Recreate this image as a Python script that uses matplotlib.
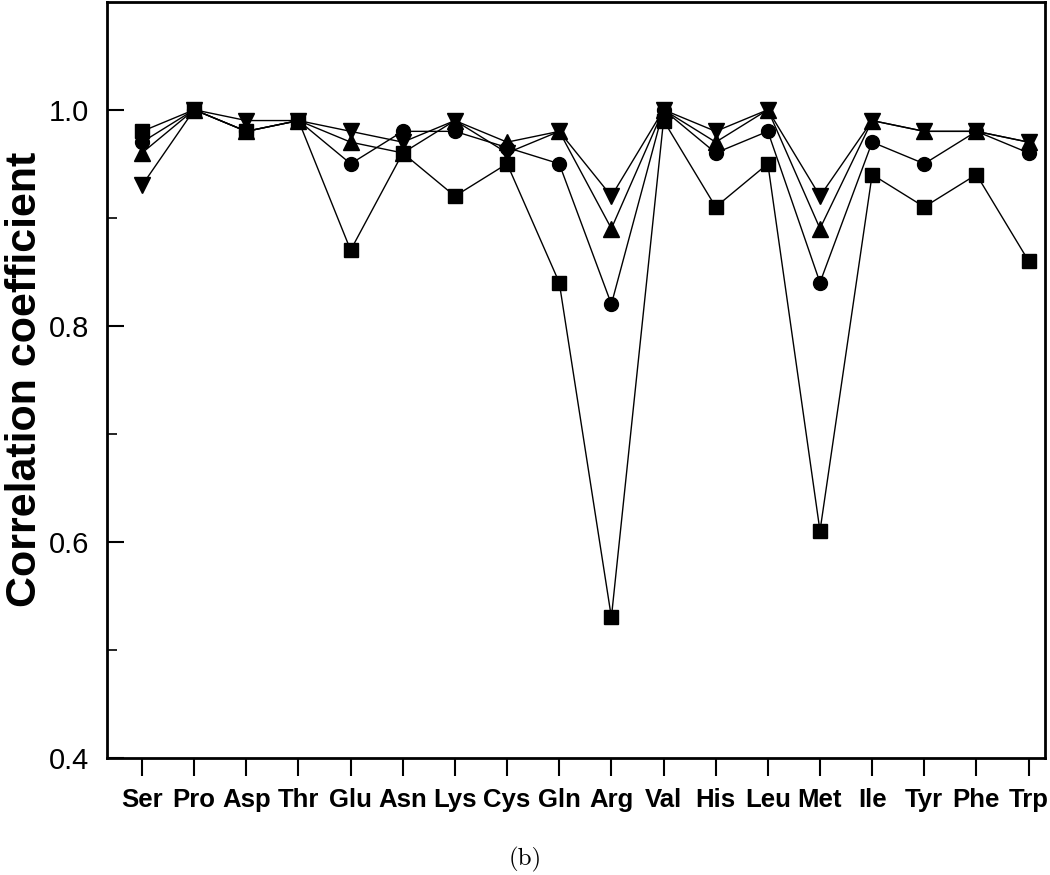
import numpy as np
from matplotlib import pyplot as plt

residues = ['Ser', 'Pro', 'Asp', 'Thr', 'Glu', 'Asn', 'Lys', 'Cys', 'Gln',
            'Arg', 'Val', 'His', 'Leu', 'Met', 'Ile', 'Tyr', 'Phe', 'Trp']

square = [0.98, 1.00, 0.98, 0.99, 0.87, 0.96, 0.92, 0.95, 0.84,
          0.53, 0.99, 0.91, 0.95, 0.61, 0.94, 0.91, 0.94, 0.86]
circle = [0.97, 1.00, 0.98, 0.99, 0.95, 0.98, 0.98, 0.965, 0.95,
          0.82, 1.00, 0.96, 0.98, 0.84, 0.97, 0.95, 0.98, 0.96]
tri_up = [0.96, 1.00, 0.98, 0.99, 0.97, 0.96, 0.99, 0.97, 0.98,
          0.89, 1.00, 0.97, 1.00, 0.89, 0.99, 0.98, 0.98, 0.97]
tri_down = [0.93, 1.00, 0.99, 0.99, 0.98, 0.97, 0.99, 0.96, 0.98,
            0.92, 1.00, 0.98, 1.00, 0.92, 0.99, 0.98, 0.98, 0.97]

x = np.arange(1, len(residues) + 1)

fig = plt.figure(figsize=(10.5, 8.75), dpi=100)
ax = fig.add_axes([0.102, 0.134, 0.893, 0.864])

# markers: filled black, triangles drawn a bit larger like the original
for vals, m, ms in [(square, 's', 10), (circle, 'o', 10), (tri_up, '^', 12), (tri_down, 'v', 12)]:
    ax.plot(x, vals, color='black', lw=1.0, marker=m, markersize=ms,
            markerfacecolor='black', markeredgecolor='black')

ax.set_xlim(0.33, 18.31)
ax.set_ylim(0.4, 1.1)
ax.set_yticks([0.4, 0.6, 0.8, 1.0])
ax.set_yticks([0.5, 0.7, 0.9], minor=True)
ax.set_yticklabels(['0.4', '0.6', '0.8', '1.0'], fontsize=21, fontfamily='Liberation Sans')
ax.set_xticks(x)
ax.set_xticklabels(residues, fontsize=18.5, fontweight='bold', fontfamily='Liberation Sans')

ax.tick_params(axis='y', direction='in', length=12, width=1.5, pad=13)
ax.tick_params(axis='y', which='minor', direction='in', length=7, width=1.2)
ax.tick_params(axis='x', direction='out', length=13, width=1.5, pad=9)
for s in ax.spines.values():
    s.set_linewidth(2)

ax.set_ylabel('Correlation coefficient', fontsize=31, fontweight='bold',
              fontfamily='Liberation Sans')
ax.yaxis.set_label_coords(-0.066, 0.5)
fig.text(0.5, 0.004, '(b)', ha='center', va='bottom', fontsize=18, family='cmr10')

plt.savefig('out.png')
